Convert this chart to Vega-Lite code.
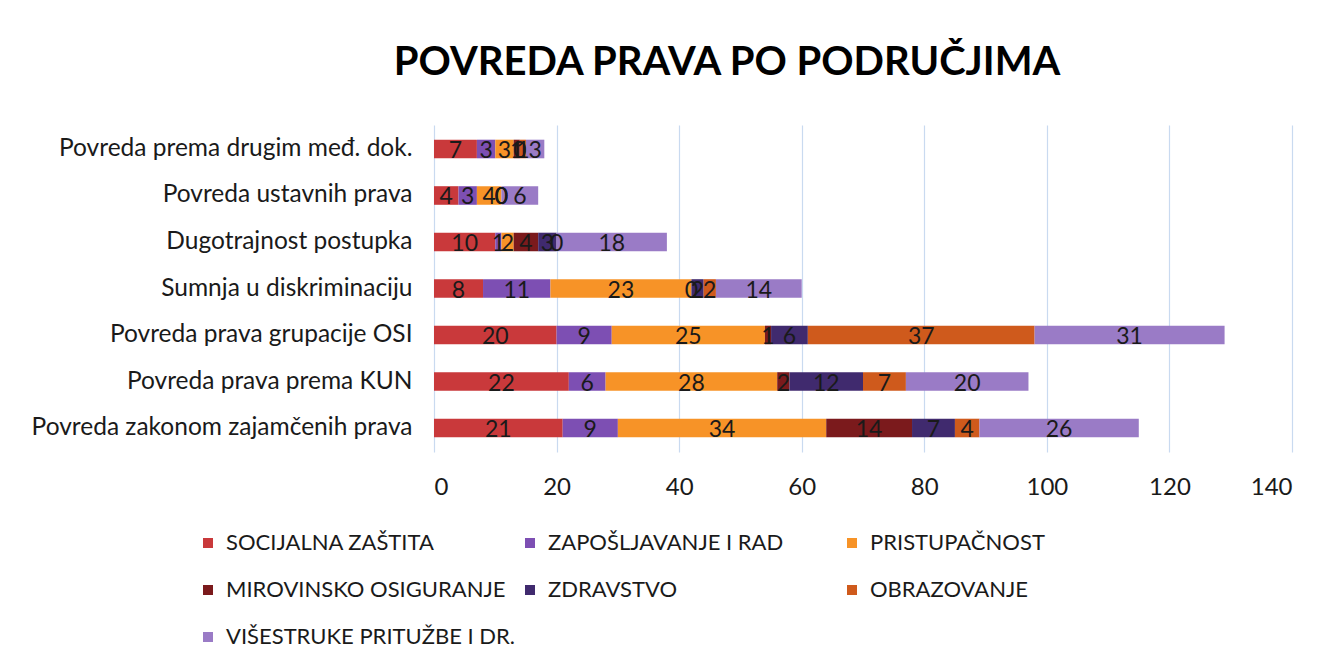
{
  "$schema": "https://vega.github.io/schema/vega-lite/v6.json",
  "autosize": {"type": "none"},
  "width": 858,
  "height": 327,
  "padding": {"left": 434, "top": 125, "right": 43, "bottom": 219},
  "background": "white",
  "title": {
    "text": "POVREDA PRAVA PO PODRUČJIMA",
    "font": "Lato",
    "fontSize": 40,
    "fontWeight": "bold",
    "color": "#000000",
    "anchor": "middle",
    "frame": "group",
    "dx": -136,
    "offset": 42
  },
  "config": {
    "view": {"stroke": null},
    "font": "Lato"
  },
  "data": {
    "values": [
      {"kat": "Povreda prema drugim međ. dok.", "serija": "SOCIJALNA ZAŠTITA", "i": 1, "n": 7},
      {"kat": "Povreda prema drugim međ. dok.", "serija": "ZAPOŠLJAVANJE I RAD", "i": 2, "n": 3},
      {"kat": "Povreda prema drugim međ. dok.", "serija": "PRISTUPAČNOST", "i": 3, "n": 3},
      {"kat": "Povreda prema drugim međ. dok.", "serija": "MIROVINSKO OSIGURANJE", "i": 4, "n": 1},
      {"kat": "Povreda prema drugim međ. dok.", "serija": "ZDRAVSTVO", "i": 5, "n": 0},
      {"kat": "Povreda prema drugim međ. dok.", "serija": "OBRAZOVANJE", "i": 6, "n": 1},
      {"kat": "Povreda prema drugim međ. dok.", "serija": "VIŠESTRUKE PRITUŽBE I DR.", "i": 7, "n": 3},
      {"kat": "Povreda ustavnih prava", "serija": "SOCIJALNA ZAŠTITA", "i": 1, "n": 4},
      {"kat": "Povreda ustavnih prava", "serija": "ZAPOŠLJAVANJE I RAD", "i": 2, "n": 3},
      {"kat": "Povreda ustavnih prava", "serija": "PRISTUPAČNOST", "i": 3, "n": 4},
      {"kat": "Povreda ustavnih prava", "serija": "MIROVINSKO OSIGURANJE", "i": 4, "n": 0},
      {"kat": "Povreda ustavnih prava", "serija": "ZDRAVSTVO", "i": 5, "n": 0},
      {"kat": "Povreda ustavnih prava", "serija": "OBRAZOVANJE", "i": 6, "n": 0},
      {"kat": "Povreda ustavnih prava", "serija": "VIŠESTRUKE PRITUŽBE I DR.", "i": 7, "n": 6},
      {"kat": "Dugotrajnost postupka", "serija": "SOCIJALNA ZAŠTITA", "i": 1, "n": 10},
      {"kat": "Dugotrajnost postupka", "serija": "ZAPOŠLJAVANJE I RAD", "i": 2, "n": 1},
      {"kat": "Dugotrajnost postupka", "serija": "PRISTUPAČNOST", "i": 3, "n": 2},
      {"kat": "Dugotrajnost postupka", "serija": "MIROVINSKO OSIGURANJE", "i": 4, "n": 4},
      {"kat": "Dugotrajnost postupka", "serija": "ZDRAVSTVO", "i": 5, "n": 3},
      {"kat": "Dugotrajnost postupka", "serija": "OBRAZOVANJE", "i": 6, "n": 0},
      {"kat": "Dugotrajnost postupka", "serija": "VIŠESTRUKE PRITUŽBE I DR.", "i": 7, "n": 18},
      {"kat": "Sumnja u diskriminaciju", "serija": "SOCIJALNA ZAŠTITA", "i": 1, "n": 8},
      {"kat": "Sumnja u diskriminaciju", "serija": "ZAPOŠLJAVANJE I RAD", "i": 2, "n": 11},
      {"kat": "Sumnja u diskriminaciju", "serija": "PRISTUPAČNOST", "i": 3, "n": 23},
      {"kat": "Sumnja u diskriminaciju", "serija": "MIROVINSKO OSIGURANJE", "i": 4, "n": 0},
      {"kat": "Sumnja u diskriminaciju", "serija": "ZDRAVSTVO", "i": 5, "n": 2},
      {"kat": "Sumnja u diskriminaciju", "serija": "OBRAZOVANJE", "i": 6, "n": 2},
      {"kat": "Sumnja u diskriminaciju", "serija": "VIŠESTRUKE PRITUŽBE I DR.", "i": 7, "n": 14},
      {"kat": "Povreda prava grupacije OSI", "serija": "SOCIJALNA ZAŠTITA", "i": 1, "n": 20},
      {"kat": "Povreda prava grupacije OSI", "serija": "ZAPOŠLJAVANJE I RAD", "i": 2, "n": 9},
      {"kat": "Povreda prava grupacije OSI", "serija": "PRISTUPAČNOST", "i": 3, "n": 25},
      {"kat": "Povreda prava grupacije OSI", "serija": "MIROVINSKO OSIGURANJE", "i": 4, "n": 1},
      {"kat": "Povreda prava grupacije OSI", "serija": "ZDRAVSTVO", "i": 5, "n": 6},
      {"kat": "Povreda prava grupacije OSI", "serija": "OBRAZOVANJE", "i": 6, "n": 37},
      {"kat": "Povreda prava grupacije OSI", "serija": "VIŠESTRUKE PRITUŽBE I DR.", "i": 7, "n": 31},
      {"kat": "Povreda prava prema KUN", "serija": "SOCIJALNA ZAŠTITA", "i": 1, "n": 22},
      {"kat": "Povreda prava prema KUN", "serija": "ZAPOŠLJAVANJE I RAD", "i": 2, "n": 6},
      {"kat": "Povreda prava prema KUN", "serija": "PRISTUPAČNOST", "i": 3, "n": 28},
      {"kat": "Povreda prava prema KUN", "serija": "MIROVINSKO OSIGURANJE", "i": 4, "n": 2},
      {"kat": "Povreda prava prema KUN", "serija": "ZDRAVSTVO", "i": 5, "n": 12},
      {"kat": "Povreda prava prema KUN", "serija": "OBRAZOVANJE", "i": 6, "n": 7},
      {"kat": "Povreda prava prema KUN", "serija": "VIŠESTRUKE PRITUŽBE I DR.", "i": 7, "n": 20},
      {"kat": "Povreda zakonom zajamčenih prava", "serija": "SOCIJALNA ZAŠTITA", "i": 1, "n": 21},
      {"kat": "Povreda zakonom zajamčenih prava", "serija": "ZAPOŠLJAVANJE I RAD", "i": 2, "n": 9},
      {"kat": "Povreda zakonom zajamčenih prava", "serija": "PRISTUPAČNOST", "i": 3, "n": 34},
      {"kat": "Povreda zakonom zajamčenih prava", "serija": "MIROVINSKO OSIGURANJE", "i": 4, "n": 14},
      {"kat": "Povreda zakonom zajamčenih prava", "serija": "ZDRAVSTVO", "i": 5, "n": 7},
      {"kat": "Povreda zakonom zajamčenih prava", "serija": "OBRAZOVANJE", "i": 6, "n": 4},
      {"kat": "Povreda zakonom zajamčenih prava", "serija": "VIŠESTRUKE PRITUŽBE I DR.", "i": 7, "n": 26}
    ]
  },
  "encoding": {
    "y": {
      "field": "kat",
      "type": "nominal",
      "sort": ["Povreda prema drugim međ. dok.", "Povreda ustavnih prava", "Dugotrajnost postupka", "Sumnja u diskriminaciju", "Povreda prava grupacije OSI", "Povreda prava prema KUN", "Povreda zakonom zajamčenih prava"],
      "scale": {"paddingInner": 0.6, "paddingOuter": 0.316},
      "axis": {
        "title": null,
        "domain": false,
        "ticks": false,
        "grid": false,
        "labelPadding": 22,
        "labelFontSize": 24.5,
        "labelFont": "Lato",
        "labelColor": "#1a1a1a",
        "labelLimit": 500
      }
    }
  },
  "layer": [
    {
      "mark": {"type": "bar"},
      "encoding": {
        "x": {
          "field": "n",
          "type": "quantitative",
          "stack": "zero",
          "scale": {"domain": [0, 140], "nice": false},
          "axis": {
            "title": null,
            "values": [0, 20, 40, 60, 80, 100, 120, 140],
            "domain": false,
            "ticks": false,
            "grid": true,
            "gridColor": "#c9daf0",
            "gridWidth": 1.2,
            "labelPadding": 23,
            "labelFontSize": 24,
            "labelFont": "Lato",
            "labelColor": "#1a1a1a"
          }
        },
        "color": {
          "field": "serija",
          "type": "nominal",
          "scale": {
            "domain": ["SOCIJALNA ZAŠTITA", "ZAPOŠLJAVANJE I RAD", "PRISTUPAČNOST", "MIROVINSKO OSIGURANJE", "ZDRAVSTVO", "OBRAZOVANJE", "VIŠESTRUKE PRITUŽBE I DR."],
            "range": ["#c9393b", "#7d4fb3", "#f79327", "#7b1a1c", "#402a6e", "#cf5a1c", "#9a7bc6"]
          },
          "legend": {
            "title": null,
            "orient": "none",
            "legendX": -237,
            "legendY": 407,
            "direction": "horizontal",
            "columns": 3,
            "gridAlign": "all",
            "columnPadding": 3,
            "rowPadding": 25,
            "symbolType": "square",
            "symbolSize": 100,
            "symbolStrokeWidth": 0,
            "labelFontSize": 22,
            "labelFont": "Lato",
            "labelColor": "#1a1a1a",
            "labelLimit": 500,
            "labelOffset": 7
          }
        },
        "order": {"field": "i", "type": "quantitative"}
      }
    },
    {
      "mark": {"type": "text", "fontSize": 23, "font": "Lato", "color": "#1a1a1a", "baseline": "middle", "dy": 2},
      "encoding": {
        "x": {"field": "n", "type": "quantitative", "stack": "zero", "bandPosition": 0.5},
        "detail": {"field": "serija"},
        "order": {"field": "i", "type": "quantitative"},
        "text": {"field": "n", "type": "quantitative"}
      }
    }
  ]
}
